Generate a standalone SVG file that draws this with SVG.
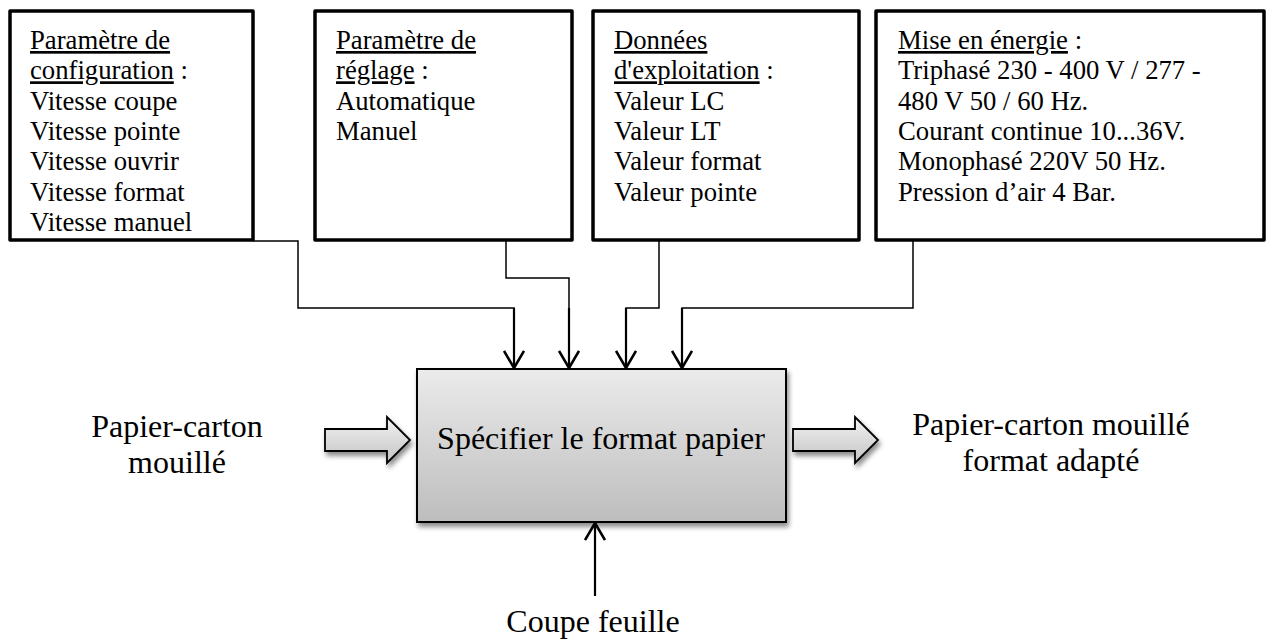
<svg xmlns="http://www.w3.org/2000/svg" width="1267" height="640" viewBox="0 0 1267 640">
  <style>
    .box { fill: #ffffff; stroke: #000000; stroke-width: 3.5; stroke-linejoin: round; }
    .lbl { font-family: "Liberation Serif", "Times New Roman", serif; font-size: 26.7px; fill: #000000; }
    .big { font-family: "Liberation Serif", "Times New Roman", serif; font-size: 32px; fill: #000000; }
    .u { text-decoration: underline; }
    .wire { fill: none; stroke: #000000; stroke-width: 1.5; }
    .drop { fill: none; stroke: #000000; stroke-width: 2.2; }
    .fat { stroke: #000000; stroke-width: 1.8; stroke-linejoin: miter; }
  </style>
  <defs>
    <!-- open V arrowhead, tip at the end of the path -->
    <marker id="vhead" viewBox="0 0 20 22" refX="18" refY="11" markerWidth="20" markerHeight="22" markerUnits="userSpaceOnUse" orient="auto">
      <path d="M1 1 L18 11 L1 21" fill="none" stroke="#000000" stroke-width="2.6"/>
    </marker>
    <linearGradient id="procFill" x1="0" y1="0" x2="0" y2="1">
      <stop offset="0" stop-color="#ebebeb"/>
      <stop offset="1" stop-color="#bdbdbd"/>
    </linearGradient>
    <linearGradient id="fatFill" x1="0" y1="0" x2="0" y2="1">
      <stop offset="0" stop-color="#f2f2f2"/>
      <stop offset="1" stop-color="#c4c4c4"/>
    </linearGradient>
    <filter id="shadow" x="-10%" y="-10%" width="130%" height="140%">
      <feGaussianBlur in="SourceAlpha" stdDeviation="2.5"/>
      <feOffset dx="2" dy="4" result="off"/>
      <feComponentTransfer><feFuncA type="linear" slope="0.45"/></feComponentTransfer>
      <feMerge><feMergeNode/><feMergeNode in="SourceGraphic"/></feMerge>
    </filter>
  </defs>

  <!-- control / data boxes -->
  <g id="config">
    <rect class="box" x="10" y="11" width="243" height="229"/>
    <text class="lbl" x="30" y="49"><tspan class="u">Paramètre de</tspan></text>
    <text class="lbl" x="30" y="79.3"><tspan class="u">configuration</tspan> :</text>
    <text class="lbl" x="30" y="109.6">Vitesse coupe</text>
    <text class="lbl" x="30" y="139.9">Vitesse pointe</text>
    <text class="lbl" x="30" y="170.2">Vitesse ouvrir</text>
    <text class="lbl" x="30" y="200.5">Vitesse format</text>
    <text class="lbl" x="30" y="230.8">Vitesse manuel</text>
  </g>

  <g id="reglage">
    <rect class="box" x="315" y="11" width="257" height="229"/>
    <text class="lbl" x="336" y="49"><tspan class="u">Paramètre de</tspan></text>
    <text class="lbl" x="336" y="79.3"><tspan class="u">réglage</tspan> :</text>
    <text class="lbl" x="336" y="109.6">Automatique</text>
    <text class="lbl" x="336" y="139.9">Manuel</text>
  </g>

  <g id="exploitation">
    <rect class="box" x="593" y="11" width="266" height="229"/>
    <text class="lbl" x="614" y="49"><tspan class="u">Données</tspan></text>
    <text class="lbl" x="614" y="79.3"><tspan class="u">d'exploitation</tspan> :</text>
    <text class="lbl" x="614" y="109.6">Valeur LC</text>
    <text class="lbl" x="614" y="139.9">Valeur LT</text>
    <text class="lbl" x="614" y="170.2">Valeur format</text>
    <text class="lbl" x="614" y="200.5">Valeur pointe</text>
  </g>

  <g id="energie">
    <rect class="box" x="876" y="11" width="388" height="229"/>
    <text class="lbl" x="898" y="49"><tspan class="u">Mise en énergie</tspan> :</text>
    <text class="lbl" x="898" y="79.3">Triphasé 230 - 400 V / 277 -</text>
    <text class="lbl" x="898" y="109.6">480 V 50 / 60 Hz.</text>
    <text class="lbl" x="898" y="139.9">Courant continue 10...36V.</text>
    <text class="lbl" x="898" y="170.2">Monophasé 220V 50 Hz.</text>
    <text class="lbl" x="898" y="200.5">Pression d’air 4 Bar.</text>
  </g>

  <!-- connectors -->
  <g id="connectors">
    <path class="wire" d="M253 241 H298 V308 H514 V338"/>
    <path class="wire" d="M506 240 V278 H569 V338"/>
    <path class="wire" d="M659 240 V308 H626 V338"/>
    <path class="wire" d="M913 240 V308 H682 V338"/>
    <path class="drop" d="M514 308 V368" marker-end="url(#vhead)"/>
    <path class="drop" d="M569 308 V368" marker-end="url(#vhead)"/>
    <path class="drop" d="M626 308 V368" marker-end="url(#vhead)"/>
    <path class="drop" d="M682 308 V368" marker-end="url(#vhead)"/>
    <path class="drop" d="M595 596 V523" marker-end="url(#vhead)"/>
    <!-- input and output flow arrows -->
    <path class="fat" fill="url(#fatFill)" filter="url(#shadow)" d="M325 429 H387 V417 L410 440 L387 463 V451 H325 Z"/>
    <path class="fat" fill="url(#fatFill)" filter="url(#shadow)" d="M793 429 H855 V417 L878 440 L855 463 V451 H793 Z"/>
  </g>

  <!-- process -->
  <g id="process">
    <rect x="417" y="369" width="369" height="153" fill="url(#procFill)" stroke="#000000" stroke-width="2" filter="url(#shadow)"/>
    <text class="big" x="601" y="449" text-anchor="middle">Spécifier le format papier</text>
  </g>

  <g id="entree">
    <text class="big" x="177" y="437" text-anchor="middle">Papier-carton</text>
    <text class="big" x="177" y="473" text-anchor="middle">mouillé</text>
  </g>

  <g id="sortie">
    <text class="big" x="1051" y="435" text-anchor="middle">Papier-carton mouillé</text>
    <text class="big" x="1051" y="471" text-anchor="middle">format adapté</text>
  </g>

  <g id="mecanisme">
    <text class="big" x="593" y="632" text-anchor="middle">Coupe feuille</text>
  </g>
</svg>
